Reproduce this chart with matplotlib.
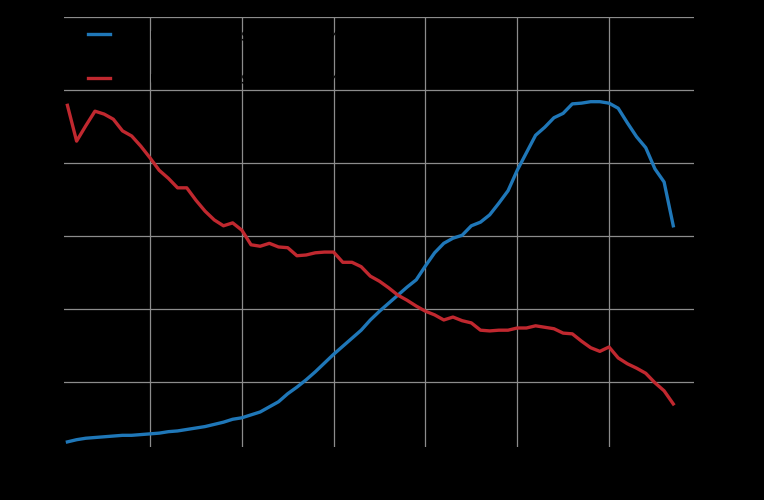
import numpy as np
import matplotlib
matplotlib.use("Agg")
import matplotlib.pyplot as plt

# annual values, 1951-2017
years = np.arange(1951, 2018)

series_up = [
    1.8, 2.1, 2.3, 2.4, 2.5, 2.6, 2.7, 2.7, 2.8, 2.9,
    3.0, 3.2, 3.3, 3.5, 3.7, 3.9, 4.2, 4.5, 4.9, 5.1,
    5.5, 5.9, 6.6, 7.3, 8.4, 9.3, 10.3, 11.4, 12.6, 13.8,
    14.9, 16.0, 17.1, 18.5, 19.7, 20.8, 21.9, 23.0, 24.0, 25.9,
    27.7, 29.0, 29.7, 30.1, 31.4, 31.9, 32.9, 34.5, 36.2, 39.0,
    41.4, 43.8, 44.9, 46.2, 46.8, 48.1, 48.2, 48.4, 48.4, 48.2,
    47.5, 45.5, 43.6, 42.1, 39.2, 37.4, 31.4,
]

series_down = [
    47.9, 43.0, 45.1, 47.1, 46.7, 46.0, 44.4, 43.7, 42.3, 40.7,
    39.0, 37.9, 36.6, 36.6, 34.9, 33.4, 32.2, 31.4, 31.8, 30.8,
    28.8, 28.6, 29.0, 28.5, 28.4, 27.3, 27.4, 27.7, 27.8, 27.8,
    26.4, 26.4, 25.8, 24.5, 23.8, 22.9, 21.9, 21.2, 20.4, 19.7,
    19.2, 18.5, 18.9, 18.4, 18.1, 17.1, 17.0, 17.1, 17.1, 17.4,
    17.4, 17.7, 17.5, 17.3, 16.7, 16.6, 15.6, 14.7, 14.2, 14.8,
    13.3, 12.5, 11.9, 11.2, 9.9, 8.8, 7.0,
]

label_up = "Households, series A (%)"
label_down = "Households, series B (%)"

x_ticks = [1960, 1970, 1980, 1990, 2000, 2010]
y_ticks = [10, 20, 30, 40, 50, 60]

# the reference is dark all over, with its text in black on black
fig = plt.figure(figsize=(7.64, 5.0), dpi=100, facecolor="black")
ax = fig.add_axes([0.0838, 0.106, 0.8246, 0.86], facecolor="black")

ax.plot(years, series_up, color="#1f77b8", lw=2.4, label=label_up)
ax.plot(years, series_down, color="#c0282f", lw=2.4, label=label_down)

ax.set_xlim(1950.63, 2019.26)
ax.set_ylim(1.1, 60)
ax.set_xticks(x_ticks)
ax.set_yticks(y_ticks)
ax.grid(True, color="#8c8c8c", lw=0.9)
ax.set_axisbelow(True)
ax.tick_params(length=0, labelsize=11, colors="black")
for s in ax.spines.values():
    s.set_visible(False)

leg = ax.legend(loc="upper left", frameon=False, fontsize=13, handlelength=1.2,
                labelspacing=1.4, bbox_to_anchor=(0.013, 1.015))
for t in leg.get_texts():
    t.set_color("black")

fig.savefig("out.png", dpi=100, facecolor="black")
